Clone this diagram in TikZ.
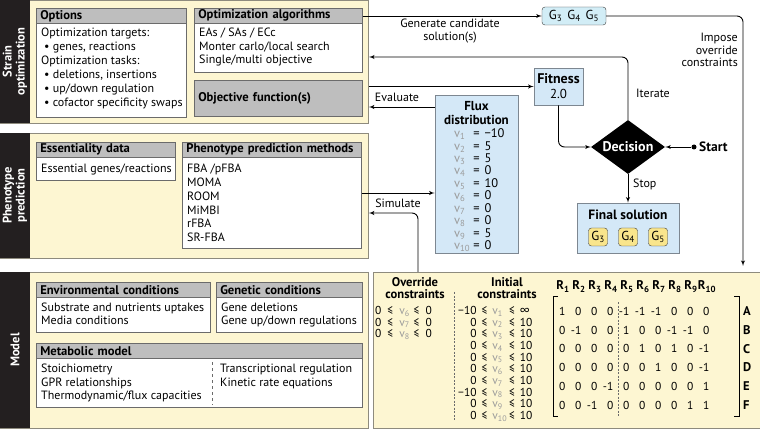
\documentclass[tikz,border=0pt,12pt]{standalone}
\usepackage{fontspec}
\setmainfont{PT Sans}
\usepackage{array}
\usetikzlibrary{arrows,shapes.geometric}

\definecolor{panelfill}{HTML}{FDF6D2}
\definecolor{panelline}{HTML}{8E8B7E}
\definecolor{stripdark}{HTML}{231F20}
\definecolor{hdrgray}{HTML}{BEBEBE}
\definecolor{boxline}{HTML}{6B6B6B}
\definecolor{bluefill}{HTML}{D4E8F7}
\definecolor{blueline}{HTML}{7D8791}
\definecolor{gfill}{HTML}{D2EDF6}
\definecolor{chipfill}{HTML}{F9E58C}
\definecolor{chipline}{HTML}{3C3C3C}
\definecolor{vgray}{HTML}{9B9B9B}

\newcolumntype{N}{>{\raggedleft\arraybackslash}p{11pt}}
\newcommand{\fv}[1]{{\color{vgray}v\textsubscript{#1}}}

\begin{document}
\begin{tikzpicture}
                [
                x=1pt, y=-1pt,
                panel/.style={draw=panelline, fill=panelfill, line width=0.8pt, anchor=north west, inner sep=0pt},
                strip/.style={fill=stripdark, text=white, font=\bfseries\fontsize{12.5}{13}\selectfont, align=center, inner sep=0pt, rotate=90},
                card/.style={draw=boxline, fill=white, anchor=north west, inner sep=0pt, line width=0.6pt},
                hdr/.style={draw=boxline, fill=hdrgray, anchor=north west, font=\bfseries\fontsize{12.6}{14}\selectfont, align=left, inner xsep=4pt, inner ysep=0pt, minimum height=15pt, line width=0.6pt},
                body/.style={anchor=north west, inner sep=0pt, align=left, font=\fontsize{12}{14}\selectfont},
                bluebox/.style={draw=blueline, fill=bluefill, line width=0.6pt, inner sep=0pt},
                chip/.style={draw=chipline, fill=chipfill, rounded corners=3pt, minimum width=19pt, minimum height=18pt, inner sep=0pt, font=\fontsize{13}{14}\selectfont},
                edge/.style={->, > = latex', line width=0.9pt},
                lbl/.style={align=center, inner sep=0pt, font=\fontsize{12}{12.5}\selectfont}
                ]
  \useasboundingbox (0,0) rectangle (760,430);

  % strain optimization
  \node[panel, minimum width=368pt, minimum height=123pt] (strain) at (0,0) {};
  \node[strip, minimum width=123pt, minimum height=30pt] (strainTag) at (15,61.5) {Strain\\optimization};
  \node[card, minimum width=150pt, minimum height=109pt] (opts) at (36,8) {};
  \node[hdr, text width=142pt] (optsHdr) at (36,8) {Options};
  \node[body] (optsTxt) at (41,28) {Optimization targets:\\
    \hspace*{3pt}\textbullet\ genes, reactions\\
    Optimization tasks:\\
    \hspace*{3pt}\textbullet\ deletions, insertions\\
    \hspace*{3pt}\textbullet\ up/down regulation\\
    \hspace*{3pt}\textbullet\ cofactor specificity swaps};
  \node[card, minimum width=168pt, minimum height=64pt] (algo) at (194,8) {};
  \node[hdr, text width=160pt] (algoHdr) at (194,8) {Optimization algorithms};
  \node[body, font=\fontsize{12}{13.5}\selectfont] (algoTxt) at (199,28) {EAs / SAs / ECc\\Monter carlo/local search\\Single/multi objective};
  \node[card, fill=hdrgray, minimum width=168pt, minimum height=36pt, font=\bfseries\fontsize{12.6}{14}\selectfont, align=left, text width=160pt, inner xsep=4pt] (objfun) at (194,80) {Objective function(s)};

  % phenotype prediction
  \node[panel, minimum width=368pt, minimum height=125pt] (pheno) at (0,133) {};
  \node[strip, minimum width=125pt, minimum height=30pt] (phenoTag) at (15,195.5) {Phenotype\\prediction};
  \node[card, minimum width=139pt, minimum height=38pt] (ess) at (36,142) {};
  \node[hdr, text width=131pt] (essHdr) at (36,142) {Essentiality data};
  \node[body] (essTxt) at (41,164) {Essential genes/reactions};
  \node[card, minimum width=179pt, minimum height=106pt] (meth) at (182,142) {};
  \node[hdr, text width=171pt] (methHdr) at (182,142) {Phenotype prediction methods};
  \node[body, font=\fontsize{12}{13.8}\selectfont] (methTxt) at (187,164) {FBA /pFBA\\MOMA\\ROOM\\MiMBI\\rFBA\\SR-FBA};

  % model
  \node[panel, minimum width=368pt, minimum height=156pt] (model) at (0,272) {};
  \node[strip, minimum width=156pt, minimum height=30pt] (modelTag) at (15,350) {Model};
  \node[card, minimum width=174pt, minimum height=50pt] (env) at (36,282) {};
  \node[hdr, text width=166pt] (envHdr) at (36,282) {Environmental conditions};
  \node[body, font=\fontsize{12}{13}\selectfont] (envTxt) at (41,303) {Substrate and nutrients uptakes\\Media conditions};
  \node[card, minimum width=146pt, minimum height=50pt] (gen) at (216,282) {};
  \node[hdr, text width=138pt] (genHdr) at (216,282) {Genetic conditions};
  \node[body, font=\fontsize{12}{13}\selectfont] (genTxt) at (221,303) {Gene deletions\\Gene up/down regulations};
  \node[card, minimum width=326pt, minimum height=64pt] (met) at (36,343) {};
  \node[hdr, text width=318pt] (metHdr) at (36,343) {Metabolic model};
  \node[body, font=\fontsize{12}{13.5}\selectfont] (metLeft) at (41,364) {Stoichiometry\\GPR relationships\\Thermodynamic/flux capacities};
  \node[body, font=\fontsize{12}{13.5}\selectfont] (metRight) at (220,364) {Transcriptional regulation\\Kinetic rate equations};
  \draw[dashed, boxline] (212,362) -- (212,405);

  % constraints and stoichiometric matrix
  \node[panel, minimum width=387pt, minimum height=156pt] (cons) at (373,272) {};
  \node[lbl, font=\bfseries\fontsize{12.6}{12}\selectfont] (ovrHdr) at (415,288.5) {Override\\constraints};
  \node[lbl, font=\bfseries\fontsize{12.6}{12}\selectfont] (iniHdr) at (507,288.5) {Initial\\constraints};
  \node[body] (ovrTab) at (375,306) {\fontsize{11.5}{11.6}\selectfont\setlength{\tabcolsep}{0pt}%
    \begin{tabular}{r@{\hspace{6pt}≤\hspace{6pt}}l@{\hspace{4pt}≤\hspace{6pt}}l}
      0&\fv{6}&0\\ 0&\fv{7}&0\\ 0&\fv{8}&0
    \end{tabular}};
  \node[body] (iniTab) at (458,306) {\fontsize{11.5}{11.6}\selectfont\setlength{\tabcolsep}{0pt}%
    \begin{tabular}{r@{\hspace{5pt}≤\hspace{5pt}}l@{\hspace{2pt}≤\hspace{5pt}}l}
      −10&\fv{1}&∞\\ 0&\fv{2}&10\\ 0&\fv{3}&10\\ 0&\fv{4}&10\\ 0&\fv{5}&10\\
      0&\fv{6}&10\\ 0&\fv{7}&10\\ −10&\fv{8}&10\\ 0&\fv{9}&10\\ 0&\fv{10}&10
    \end{tabular}};
  \draw[dash pattern=on 2pt off 1.5pt, boxline] (454,292) -- (454,420);
  \foreach \j in {1,...,10}
    \node[anchor=base, inner sep=0pt, font=\bfseries\fontsize{12.6}{14}\selectfont] (r\j) at ({547+16*\j},290) {R\textsubscript{\j}};
  \node[body] (smat) at (551.6,302) {\fontsize{11.5}{18.8}\selectfont\setlength{\tabcolsep}{2.5pt}%
    \begin{tabular}{*{10}{N}}
      1&0&0&0&-1&-1&-1&0&0&0\\
      0&-1&0&0&1&0&0&-1&-1&0\\
      0&0&0&0&0&1&0&1&0&-1\\
      0&0&0&0&0&0&1&0&0&-1\\
      0&0&0&-1&0&0&0&0&0&1\\
      0&0&-1&0&0&0&0&0&1&1
    \end{tabular}};
  \draw[dash pattern=on 2pt off 1.5pt, boxline] (618,302) -- (618,417);
  \draw[line width=0.8pt] (558,296) -- (553,296) -- (553,416) -- (558,416);
  \draw[line width=0.8pt] (734,296) -- (739,296) -- (739,416) -- (734,416);
  \foreach \r [count=\i from 0] in {A,B,C,D,E,F}
    \node[anchor=base west, inner sep=0pt, font=\bfseries\fontsize{12.6}{14}\selectfont] (row\r) at (743,{315.5+18.8*\i}) {\r};

  % flux, fitness and decision loop
  \node[bluebox, minimum width=83pt, minimum height=158pt] (flux) at (476.5,174) {};
  \node[lbl, font=\bfseries\fontsize{13}{14}\selectfont] (fluxHdr) at (476.5,113) {Flux\\distribution};
  \node[body] (fluxTab) at (454,128.7) {\fontsize{12.5}{11.9}\selectfont\setlength{\tabcolsep}{0pt}%
    \begin{tabular}{l@{\hspace{3pt}=\hspace{5pt}}l}
      \fv{1}&−10\\ \fv{2}&5\\ \fv{3}&5\\ \fv{4}&0\\ \fv{5}&10\\
      \fv{6}&0\\ \fv{7}&0\\ \fv{8}&0\\ \fv{9}&5\\ \fv{10}&0
    \end{tabular}};
  \node[bluebox, minimum width=49pt, minimum height=37pt, align=center, font=\fontsize{13}{15}\selectfont] (fit) at (558.5,86.5) {{\fontsize{14}{15}\selectfont\bfseries Fitness}\\2.0};
  \node[diamond, fill=black, text=white, font=\bfseries\fontsize{14}{15}\selectfont, minimum width=74pt, minimum height=54pt, inner sep=0pt, aspect=1.37] (dec) at (628,147) {Decision};
  \node[circle, fill=black, inner sep=0pt, minimum size=5pt] (startDot) at (694,147) {};
  \node[anchor=west, inner sep=0pt, font=\bfseries\fontsize{13.5}{15}\selectfont] (startLbl) at (699,147) {Start};
  \node[bluebox, minimum width=102pt, minimum height=50pt] (final) at (628,228) {};
  \node[inner sep=0pt, font=\bfseries\fontsize{13.5}{15}\selectfont] (finalHdr) at (628,215) {Final solution};
  \node[chip] (fin3) at (598,237) {G\textsubscript{3}};
  \node[chip] (fin4) at (628,237) {G\textsubscript{4}};
  \node[chip] (fin5) at (658,237) {G\textsubscript{5}};
  \node[draw=chipline, fill=gfill, rounded corners=3pt, minimum width=64pt, minimum height=18pt, inner sep=0pt, font=\fontsize{13}{14}\selectfont] (cand) at (574,16) {G\textsubscript{3}\hspace{5pt}G\textsubscript{4}\hspace{5pt}G\textsubscript{5}};

  % connectors
  \draw[edge] (algoHdr.east |- cand.west) -- (cand.west);
  \node[lbl] (genLbl) at (450,31) {Generate candidate\\solution(s)};
  \coordinate (imposeEnd) at (743,266);
  \draw[edge, rounded corners=6pt] (cand.east) -| (imposeEnd);
  \node[lbl, align=right, anchor=east] (impLbl) at (738,50) {Impose\\override\\constraints};
  \coordinate (iterEnd) at (369,57);
  \draw[edge, rounded corners=6pt] (dec.north) |- (iterEnd);
  \node[lbl] (iterLbl) at (653,93) {Iterate};
  \draw[edge] (fit.west -| strain.east) -- (fit.west);
  \coordinate (evalStart) at (flux.west |- 0,107);
  \draw[edge] (evalStart) -- (evalStart -| strain.east);
  \node[lbl] (evalLbl) at (397,97) {Evaluate};
  \draw[edge, rounded corners=6pt] (fit.south) |- (dec.west);
  \draw[edge] (startDot) -- (dec.east);
  \draw[edge] (dec.south) -- (final.north);
  \node[lbl, anchor=west] (stopLbl) at (633,184) {Stop};
  \coordinate (simY) at (0,193);
  \draw[edge] (meth.east |- simY) -- (flux.west |- simY);
  \coordinate (simBase) at (418,272);
  \draw[edge, rounded corners=6pt] (simBase) |- (pheno.east |- 0,213);
  \node[lbl] (simLbl) at (398,203) {Simulate};
\end{tikzpicture}
\end{document}
